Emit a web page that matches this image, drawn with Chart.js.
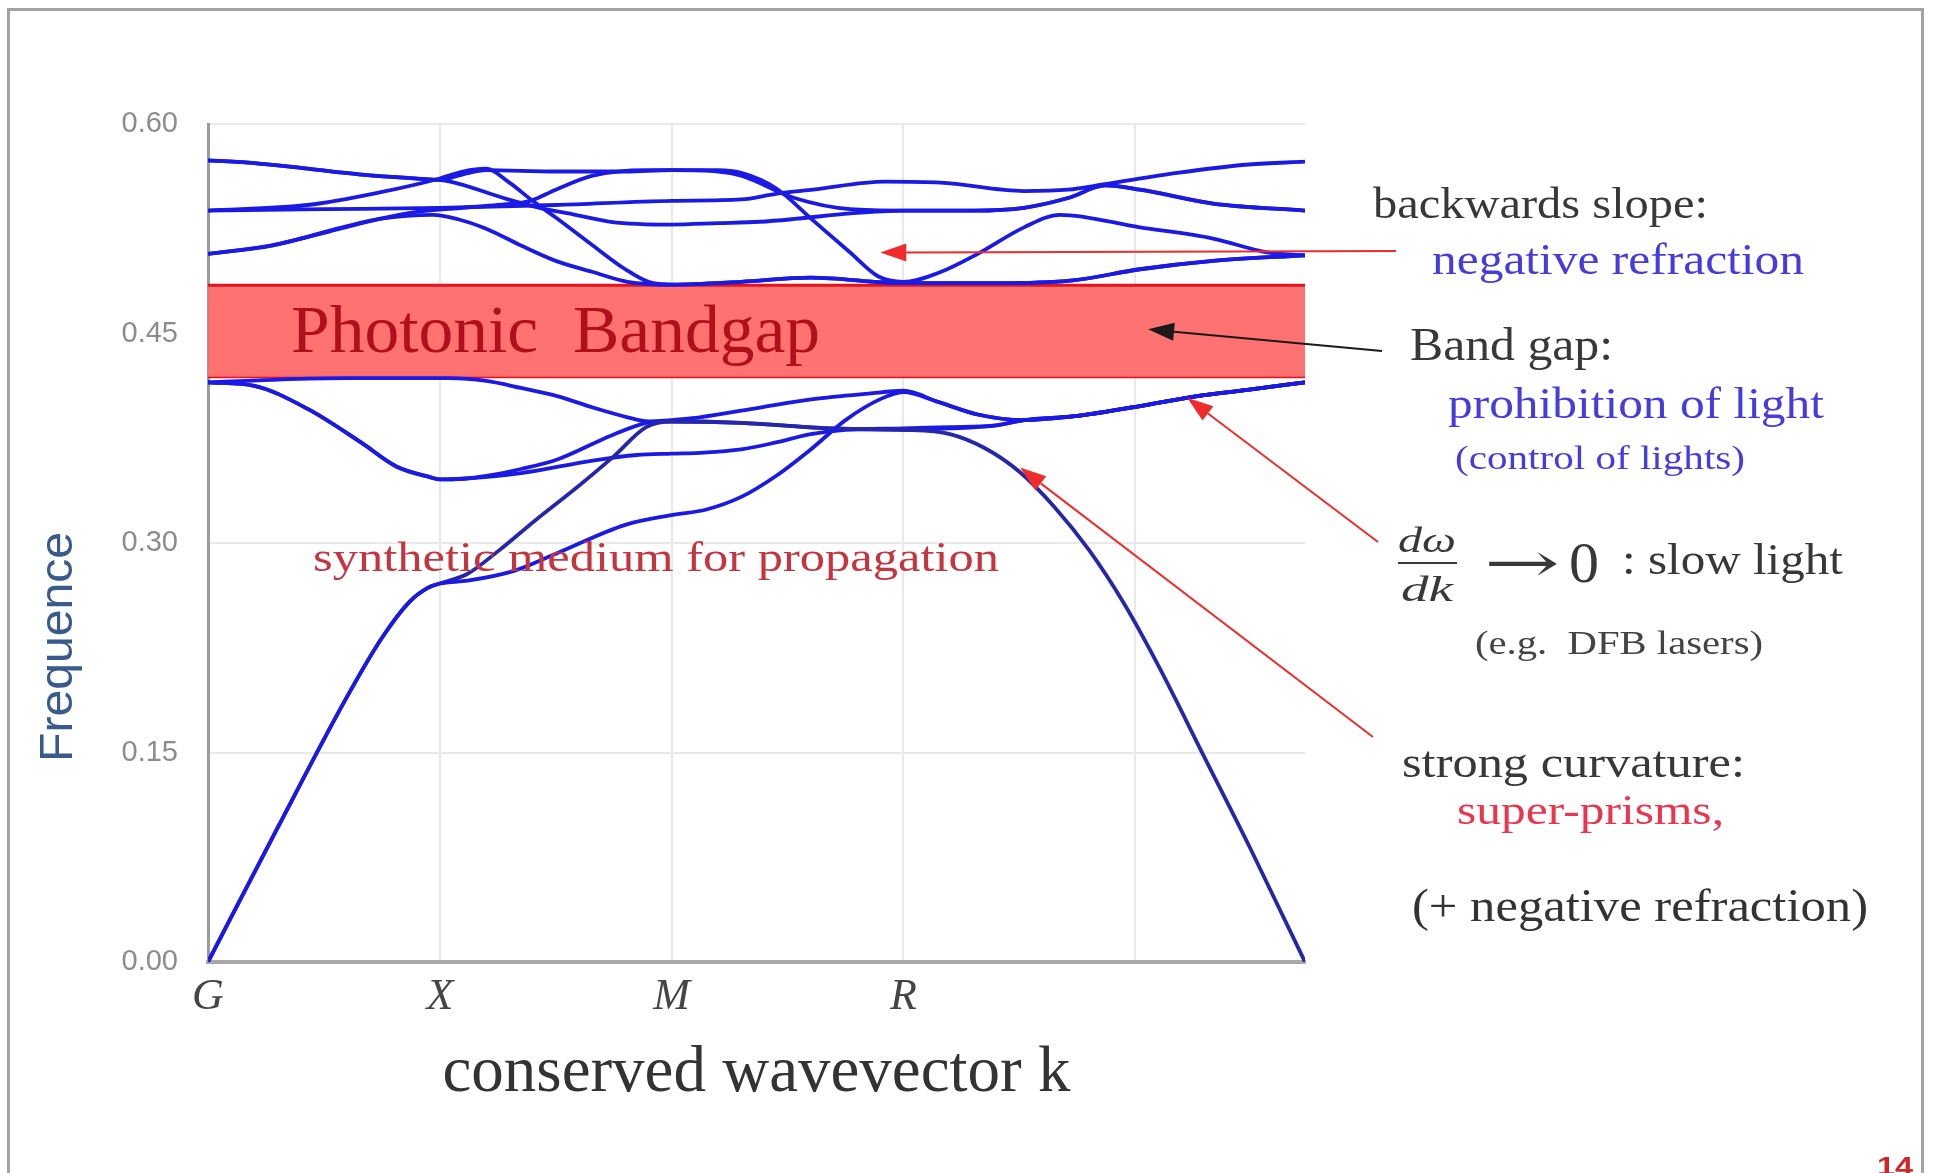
<!DOCTYPE html>
<html>
<head>
<meta charset="utf-8">
<script src="https://cdn.jsdelivr.net/npm/chart.js@4.4.1/dist/chart.umd.min.js"></script>
<style>
  html, body { margin: 0; padding: 0; background: #ffffff; }
  canvas { display: block; }
</style>
</head>
<body>
<canvas id="c" width="1939" height="1173"></canvas>
<script>
// ---------------- DATA ----------------
// k-path positions: G=0, X=1, M=2, R=3, back to G = 3 + sqrt(3)
const kTickLabels = ['G', 'X', 'M', 'R', ''];
const kPathEnd = 4.732;
const freqRange = [0, 0.60];
const freqStep = 0.15;
const gapEdges = [0.419, 0.4845];   // photonic band gap (bottom, top)

// bands below the gap
const lowBand1 = [[0,0],[0.3,0.096],[0.6,0.190],[0.75,0.232],[0.87,0.258],[0.95,0.268],[1.0,0.271],[1.12,0.273],[1.32,0.280],[1.51,0.293],[1.8,0.313],[2.0,0.320],[2.15,0.324],[2.3,0.333],[2.45,0.348],[2.6,0.367],[2.75,0.388],[2.9,0.403],[3.0,0.408],[3.15,0.401],[3.32,0.392],[3.52,0.388],[3.75,0.391],[4.02,0.398],[4.26,0.405],[4.5,0.410],[4.732,0.415]];
const lowBand2 = [[0,0],[0.3,0.096],[0.6,0.190],[0.75,0.232],[0.87,0.258],[0.95,0.268],[1.0,0.271],[1.12,0.278],[1.25,0.294],[1.41,0.316],[1.6,0.341],[1.75,0.362],[1.89,0.383],[2.0,0.387],[2.3,0.386],[2.69,0.382],[3.0,0.381],[3.2,0.378],[3.35,0.368],[3.5,0.351],[3.65,0.326],[3.8,0.295],[3.95,0.257],[4.1,0.212],[4.3,0.146],[4.5,0.080],[4.732,0]];
const lowBand3 = [[0,0.415],[0.2,0.4125],[0.43,0.396],[0.66,0.372],[0.81,0.355],[0.96,0.347],[1.0,0.3455],[1.1,0.346],[1.2,0.348],[1.35,0.353],[1.51,0.360],[1.74,0.377],[1.89,0.386],[2.0,0.388],[2.12,0.390],[2.38,0.397],[2.61,0.403],[2.85,0.407],[3.0,0.409],[3.15,0.401],[3.32,0.392],[3.52,0.388],[3.75,0.391],[4.02,0.398],[4.26,0.405],[4.5,0.410],[4.732,0.415]];
const lowBand4 = [[0,0.415],[0.2,0.4125],[0.43,0.396],[0.66,0.372],[0.81,0.355],[0.96,0.347],[1.0,0.3455],[1.1,0.346],[1.35,0.350],[1.66,0.359],[1.85,0.363],[2.0,0.364],[2.12,0.3646],[2.3,0.367],[2.45,0.372],[2.6,0.378],[2.75,0.381],[3.0,0.382],[3.2,0.383],[3.39,0.384],[3.52,0.388],[3.75,0.391],[4.02,0.398],[4.26,0.405],[4.5,0.410],[4.732,0.415]];
const lowBand5 = [[0,0.415],[0.3,0.417],[0.6,0.418],[0.85,0.418],[1.04,0.418],[1.2,0.416],[1.35,0.411],[1.51,0.405],[1.66,0.397],[1.81,0.390],[1.9,0.387],[2.0,0.387],[2.3,0.386],[2.69,0.382],[3.0,0.381],[3.2,0.382],[3.39,0.384],[3.52,0.388],[3.75,0.391],[4.02,0.398],[4.26,0.405],[4.5,0.410],[4.732,0.415]];

// bands above the gap
const upBand1 = [[0,0.574],[0.2,0.572],[0.43,0.568],[0.65,0.564],[0.89,0.561],[1.0,0.560],[1.1,0.564],[1.2,0.567],[1.5,0.566],[1.8,0.566],[2.0,0.567],[2.2,0.567],[2.3,0.565],[2.45,0.554],[2.61,0.531],[2.77,0.508],[2.89,0.491],[3.0,0.487],[3.16,0.494],[3.32,0.507],[3.52,0.526],[3.675,0.535],[4.02,0.526],[4.335,0.518],[4.57,0.508],[4.732,0.506]];
const upBand2 = [[0,0.538],[0.43,0.542],[0.74,0.551],[1.0,0.561],[1.1,0.566],[1.2,0.568],[1.3,0.558],[1.4,0.545],[1.5,0.533],[1.66,0.513],[1.8,0.496],[1.9,0.487],[2.0,0.485],[2.3,0.487],[2.6,0.490],[3.0,0.486],[3.4,0.486],[3.73,0.488],[4.02,0.496],[4.335,0.502],[4.732,0.506]];
const upBand3 = [[0,0.538],[0.5,0.539],[1.0,0.540],[1.5,0.542],[2.0,0.545],[2.3,0.546],[2.45,0.550],[2.61,0.553],[2.92,0.5587],[3.16,0.558],[3.52,0.552],[3.71,0.553],[3.87,0.557],[4.18,0.565],[4.49,0.571],[4.732,0.573]];
const upBand4 = [[0,0.507],[0.275,0.513],[0.58,0.526],[0.74,0.532],[0.97,0.535],[1.075,0.532],[1.2,0.525],[1.35,0.513],[1.5,0.502],[1.66,0.494],[1.81,0.487],[2.0,0.485],[2.3,0.487],[2.6,0.490],[3.0,0.486],[3.4,0.486],[3.73,0.488],[4.02,0.496],[4.335,0.502],[4.732,0.506]];
const upBand5 = [[0,0.507],[0.27,0.513],[0.5,0.522],[0.74,0.532],[0.9,0.537],[1.1,0.540],[1.25,0.542],[1.39,0.545],[1.5,0.553],[1.66,0.563],[1.89,0.567],[2.0,0.567],[2.2,0.566],[2.3,0.563],[2.53,0.547],[2.77,0.539],[3.0,0.538],[3.3,0.538],[3.52,0.540],[3.71,0.547],[3.87,0.556],[4.02,0.553],[4.335,0.543],[4.732,0.538]];
const upBand6 = [[0,0.574],[0.2,0.572],[0.43,0.568],[0.65,0.564],[0.89,0.561],[1.04,0.559],[1.275,0.547],[1.43,0.540],[1.585,0.535],[1.737,0.530],[2.0,0.528],[2.2,0.529],[2.38,0.530],[2.53,0.532],[2.77,0.536],[3.0,0.538],[3.3,0.538],[3.52,0.540],[3.71,0.547],[3.87,0.556],[4.02,0.553],[4.335,0.543],[4.732,0.538]];

// arrow heads point at these (k, frequency) locations
const arrowTargets = {
  backwardsSlope: [2.90, 0.508],
  bandGap:        [4.055, 0.453],
  slowLight:      [4.224, 0.404],
  curvature:      [3.503, 0.354]
};

// ---------------- STYLE / LAYOUT ----------------
const BAND_BLUE = '#1a1ae4';
const BAND_NAVY = '#2626a8';
const TXT_BLUE = '#463cdc';
const TXT_GRAY = '#383838';
const SERIF = '"Liberation Serif", "DejaVu Serif", serif';
const SANS = '"Liberation Sans", Arial, sans-serif';

const bandSeries = [
  {data: lowBand1, color: BAND_BLUE},
  {data: lowBand2, color: BAND_NAVY},
  {data: lowBand3, color: BAND_BLUE},
  {data: lowBand4, color: BAND_BLUE},
  {data: lowBand5, color: BAND_BLUE},
  {data: upBand1, color: BAND_BLUE},
  {data: upBand2, color: BAND_BLUE},
  {data: upBand3, color: BAND_BLUE},
  {data: upBand4, color: BAND_BLUE},
  {data: upBand5, color: BAND_BLUE},
  {data: upBand6, color: BAND_BLUE}
];

const toXY = arr => arr.map(p => ({x: p[0], y: p[1]}));

const datasets = [
  {
    label: 'gapTop', data: toXY([[0, gapEdges[1]], [kPathEnd, gapEdges[1]]]),
    borderColor: '#e3141e', borderWidth: 3, backgroundColor: 'rgba(255,108,108,0.96)',
    fill: '+1', pointRadius: 0, order: 10, tension: 0
  },
  {
    label: 'gapBottom', data: toXY([[0, gapEdges[0]], [kPathEnd, gapEdges[0]]]),
    borderColor: '#e3141e', borderWidth: 3, fill: false, pointRadius: 0, order: 11, tension: 0
  }
].concat(bandSeries.map((b, i) => ({
  label: 'band' + i,
  data: toXY(b.data),
  borderColor: b.color,
  borderWidth: 3.8,
  pointRadius: 0,
  fill: false,
  cubicInterpolationMode: 'monotone',
  order: 1
})));

// text annotations: [text, left x, baseline y, font size, color, target width, font style]
const notes = [
  ['backwards slope:', 1373, 218, 44, TXT_GRAY, 335, ''],
  ['negative refraction', 1432, 274, 44, TXT_BLUE, 372, ''],
  ['Band gap:', 1410, 360, 46, TXT_GRAY, 203, ''],
  ['prohibition of light', 1448, 418, 44, TXT_BLUE, 376, ''],
  ['(control of lights)', 1455, 469, 33, TXT_BLUE, 290, ''],
  [': slow light', 1622, 574, 44, TXT_GRAY, 221, ''],
  ['(e.g.  DFB lasers)', 1475, 654, 34, '#444444', 288, ''],
  ['strong curvature:', 1402, 777, 44, TXT_GRAY, 343, ''],
  ['super-prisms,', 1457, 824, 42, '#e8364f', 267, ''],
  ['(+ negative refraction)', 1412, 921, 46, '#333333', 456, ''],
  ['Photonic  Bandgap', 291, 352, 68, '#b0101a', 529, ''],
  ['synthetic medium for propagation', 313, 571, 43, '#c43540', 686, '']
];

// arrows: [target key, tail x, tail y, color]
const arrows = [
  ['backwardsSlope', 1396, 251, '#ef2b2b'],
  ['bandGap', 1382, 351, '#1a1a1a'],
  ['slowLight', 1378, 542, '#ef2b2b'],
  ['curvature', 1373, 737, '#ef2b2b']
];

function drawText(ctx, s, x, y, size, color, width, style, family, align) {
  ctx.save();
  ctx.font = `${style || ''} ${size}px ${family || SERIF}`;
  ctx.fillStyle = color;
  ctx.textBaseline = 'alphabetic';
  ctx.textAlign = 'left';
  const w = ctx.measureText(s).width;
  const sx = width ? width / w : 1;
  let left = x;
  if (align === 'center') left = x - (width || w) / 2;
  ctx.translate(left, y);
  ctx.scale(sx, 1);
  ctx.fillText(s, 0, 0);
  ctx.restore();
}

function drawArrow(ctx, x1, y1, x2, y2, color, lw, headLen, headHalf) {
  const ang = Math.atan2(y2 - y1, x2 - x1);
  const bx = x2 - headLen * Math.cos(ang), by = y2 - headLen * Math.sin(ang);
  ctx.save();
  ctx.strokeStyle = color; ctx.fillStyle = color; ctx.lineWidth = lw;
  ctx.beginPath(); ctx.moveTo(x1, y1); ctx.lineTo(bx, by); ctx.stroke();
  ctx.beginPath();
  ctx.moveTo(x2, y2);
  ctx.lineTo(bx + headHalf * Math.sin(ang), by - headHalf * Math.cos(ang));
  ctx.lineTo(bx - headHalf * Math.sin(ang), by + headHalf * Math.cos(ang));
  ctx.closePath(); ctx.fill();
  ctx.restore();
}

const slidePlugin = {
  id: 'slide',
  beforeDraw(chart) {
    const ctx = chart.ctx;
    ctx.save();
    ctx.fillStyle = '#ffffff';
    ctx.fillRect(0, 0, chart.width, chart.height);
    ctx.strokeStyle = '#a3a3a3';
    ctx.lineWidth = 3;
    ctx.strokeRect(8.5, 9.5, 1914, 1200);
    ctx.restore();
  },
  afterDraw(chart) {
    const ctx = chart.ctx;
    const xs = chart.scales.x, ys = chart.scales.y;
    // y axis title
    ctx.save();
    ctx.translate(59, 647);
    ctx.rotate(-Math.PI / 2);
    ctx.font = `46px ${SANS}`;
    const fw = ctx.measureText('Frequence').width;
    ctx.scale(230 / fw, 1);
    ctx.fillStyle = '#3a5a8c';
    ctx.textAlign = 'center';
    ctx.textBaseline = 'middle';
    ctx.fillText('Frequence', 0, 0);
    ctx.restore();
    // text notes
    notes.forEach(n => drawText(ctx, n[0], n[1], n[2], n[3], n[4], n[5], n[6]));
    // math: d omega / d k -> 0
    drawText(ctx, 'dω', 1427, 552, 35, TXT_GRAY, 58, 'italic', SERIF, 'center');
    ctx.save();
    ctx.strokeStyle = TXT_GRAY; ctx.lineWidth = 2;
    ctx.beginPath(); ctx.moveTo(1398, 563); ctx.lineTo(1457, 563); ctx.stroke();
    ctx.restore();
    drawText(ctx, 'dk', 1427, 601, 35, TXT_GRAY, 52, 'italic', SERIF, 'center');
    drawText(ctx, '→', 1484, 582, 56, TXT_GRAY, 76, '', '"DejaVu Serif", serif');
    drawText(ctx, '0', 1569, 582, 56, TXT_GRAY, 30, '', SERIF);
    // page number
    drawText(ctx, '14', 1877, 1175, 26, '#cc2a2a', 36, 'bold', SANS);
    // arrows
    arrows.forEach(a => {
      const t = arrowTargets[a[0]];
      const hx = xs.getPixelForValue(t[0]), hy = ys.getPixelForValue(t[1]);
      drawArrow(ctx, a[1], a[2], hx, hy, a[3], 2, 26, 9);
    });
  }
};

new Chart(document.getElementById('c'), {
  type: 'line',
  data: { datasets },
  plugins: [slidePlugin],
  options: {
    responsive: false,
    animation: false,
    devicePixelRatio: 1,
    layout: { padding: { left: 0, top: 124, right: 634, bottom: 0 } },
    plugins: { legend: { display: false }, tooltip: { enabled: false } },
    scales: {
      x: {
        type: 'linear',
        min: 0, max: kPathEnd,
        afterFit(s) { s.height = 211; s.paddingLeft = 0; s.paddingRight = 0; },
        ticks: {
          stepSize: 1, includeBounds: false, autoSkip: false, maxRotation: 0,
          callback: v => (kTickLabels[v] !== undefined ? kTickLabels[v] : ''),
          font: { family: SERIF, size: 44, style: 'italic' },
          color: '#454545', padding: 9
        },
        grid: { color: '#e9e9e9', lineWidth: 2, drawTicks: false },
        border: { display: true, color: '#a8a8a8', width: 4 },
        title: {
          display: true, text: 'conserved wavevector k',
          font: { family: SERIF, size: 65 }, color: '#333333',
          padding: { top: 0, bottom: 60 }
        }
      },
      y: {
        min: freqRange[0], max: freqRange[1],
        afterFit(s) { s.width = 208; s.paddingTop = 0; s.paddingBottom = 0; },
        ticks: {
          stepSize: freqStep,
          callback: v => Number(v).toFixed(2),
          font: { family: SANS, size: 29 },
          color: '#8c8c8c', padding: 30
        },
        grid: { color: '#e9e9e9', lineWidth: 2, drawTicks: false },
        border: { display: true, color: '#9c9c9c', width: 3 }
      }
    }
  }
});
</script>
</body>
</html>
